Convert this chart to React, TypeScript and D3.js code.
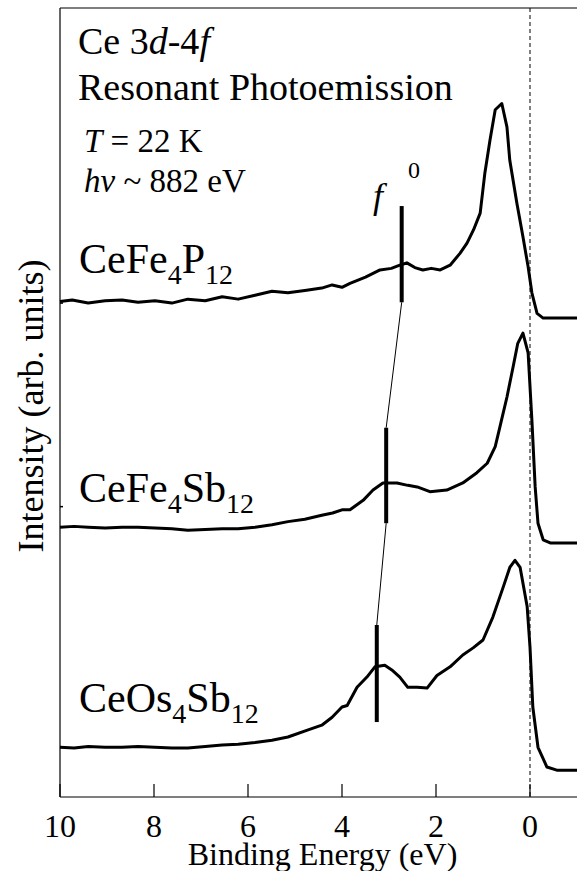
import * as d3 from "d3";

// spectra: [binding energy (eV), intensity above the flat level (arb. units)]
const cefe4p12: [number, number][] = [
  [10, 0.21], [9.74, 0.23], [9.4, 0.19], [9.04, 0.22], [8.68, 0.23], [8.34, 0.2],
  [7.98, 0.22], [7.62, 0.19], [7.28, 0.24], [6.91, 0.22], [6.55, 0.27], [6.21, 0.24],
  [5.85, 0.29], [5.49, 0.34], [5.15, 0.32], [4.79, 0.35], [4.43, 0.38], [4.21, 0.42],
  [4.0, 0.39], [3.83, 0.44], [3.5, 0.52], [3.19, 0.61], [2.95, 0.63], [2.77, 0.67],
  [2.62, 0.7], [2.45, 0.64], [2.28, 0.61], [2.1, 0.63], [1.91, 0.61], [1.7, 0.67],
  [1.49, 0.82], [1.34, 0.95], [1.2, 1.12], [1.06, 1.33], [0.96, 1.84], [0.85, 2.26],
  [0.74, 2.64], [0.6, 2.72], [0.49, 2.42], [0.43, 2.0], [0.28, 1.46], [0.15, 1.03],
  [0.04, 0.65], [-0.04, 0.32], [-0.15, 0.06], [-0.28, 0], [-0.6, 0], [-1, 0],
];

const cefe4sb12: [number, number][] = [
  [10, 0.2], [9.7, 0.21], [9.4, 0.2], [9.04, 0.19], [8.68, 0.2], [8.34, 0.2],
  [7.98, 0.19], [7.62, 0.18], [7.28, 0.16], [6.91, 0.17], [6.55, 0.18], [6.21, 0.18],
  [5.85, 0.2], [5.49, 0.23], [5.15, 0.27], [4.79, 0.3], [4.43, 0.35], [4.2, 0.38],
  [4.0, 0.42], [3.83, 0.42], [3.55, 0.54], [3.34, 0.67], [3.13, 0.76], [2.83, 0.76],
  [2.6, 0.73], [2.4, 0.71], [2.13, 0.65], [1.77, 0.67], [1.43, 0.76], [1.13, 0.89],
  [0.91, 1.01], [0.74, 1.22], [0.64, 1.47], [0.49, 1.85], [0.36, 2.23], [0.26, 2.53],
  [0.15, 2.66], [0.04, 2.41], [-0.04, 1.56], [-0.11, 0.71], [-0.17, 0.25], [-0.28, 0.04],
  [-0.43, 0], [-1, 0],
];

const ceos4sb12: [number, number][] = [
  [10, 0.29], [9.7, 0.28], [9.4, 0.3], [9.04, 0.29], [8.68, 0.29], [8.34, 0.3],
  [7.98, 0.29], [7.62, 0.28], [7.28, 0.28], [6.91, 0.3], [6.55, 0.32], [6.21, 0.33],
  [5.85, 0.35], [5.49, 0.38], [5.15, 0.42], [4.72, 0.51], [4.43, 0.57], [4.21, 0.67],
  [4.0, 0.8], [3.89, 0.82], [3.68, 1.05], [3.47, 1.18], [3.3, 1.31], [3.09, 1.33],
  [2.94, 1.27], [2.77, 1.18], [2.6, 1.05], [2.4, 1.05], [2.19, 1.04], [1.98, 1.2],
  [1.7, 1.31], [1.43, 1.46], [1.21, 1.55], [1.0, 1.65], [0.79, 1.94], [0.57, 2.32],
  [0.43, 2.57], [0.32, 2.66], [0.21, 2.57], [0.06, 2.07], [0.0, 1.56], [-0.06, 0.8],
  [-0.17, 0.29], [-0.36, 0.04], [-0.57, 0], [-1, 0],
];

// vertical offset of each spectrum, and the f0 marker: energy, low, high (relative)
const spectra = [
  { name: "CeFe", sub1: "4", mid: "P", sub2: "12", data: cefe4p12, offset: 6.07, f0: [2.73, 0.2, 1.42] },
  { name: "CeFe", sub1: "4", mid: "Sb", sub2: "12", data: cefe4sb12, offset: 3.22, f0: [3.06, 0.25, 1.46] },
  { name: "CeOs", sub1: "4", mid: "Sb", sub2: "12", data: ceos4sb12, offset: 0.34, f0: [3.26, 0.61, 1.84] },
];

const xTicks = [10, 8, 6, 4, 2, 0];
const yMarks = [6.26, 3.68];

const W = 577;
const H = 871;
const font = "'Liberation Serif', 'Times New Roman', Times, serif";

export default function App() {
  const x = d3.scaleLinear().domain([10, -1]).range([60, 577]);
  const y = d3.scaleLinear().domain([0, 10]).range([797, 8]);
  const left = x(10);
  const bottom = y(0);
  const top = 8;

  const line = (off: number) =>
    d3.line<[number, number]>()
      .x((d) => x(d[0]))
      .y((d) => y(d[1] + off));

  // label positions (baseline) for each spectrum
  const labelY = [273, 502, 712];

  return (
    <svg width={W} height={H} style={{ position: "absolute", left: 0, top: 0, background: "#fff", fontFamily: font }}>
      {/* frame */}
      <line x1={left} y1={top} x2={W} y2={top} stroke="#000" strokeWidth={1.2} />
      <line x1={left} y1={top} x2={left} y2={bottom} stroke="#000" strokeWidth={1.2} />
      <line x1={left} y1={bottom} x2={W} y2={bottom} stroke="#000" strokeWidth={1.2} />
      {xTicks.map((t) => (
        <g key={t}>
          <line x1={x(t)} x2={x(t)} y1={bottom} y2={bottom - 13} stroke="#000" strokeWidth={1.2} />
          <text x={x(t)} y={837} fontSize={32} textAnchor="middle">{t}</text>
        </g>
      ))}
      {yMarks.map((m) => (
        <line key={m} x1={left} x2={left + 3} y1={y(m)} y2={y(m)} stroke="#000" strokeWidth={1.5} />
      ))}
      <line x1={x(0)} x2={x(0)} y1={top} y2={bottom} stroke="#000" strokeWidth={1} strokeDasharray="4,3" />

      <text x={(left + x(-1)) / 2 + 4} y={865} fontSize={32} textAnchor="middle">Binding Energy (eV)</text>
      <text transform={`translate(43,406) rotate(-90)`} fontSize={36} textAnchor="middle">Intensity (arb. units)</text>

      {/* spectra */}
      {spectra.map((s) => (
        <path key={s.mid + s.name} d={line(s.offset)(s.data) || ""} fill="none" stroke="#000" strokeWidth={3} strokeLinejoin="round" />
      ))}

      {/* f0 markers */}
      {spectra.map((s, i) => (
        <line key={"b" + i} x1={x(s.f0[0])} x2={x(s.f0[0])} y1={y(s.offset + s.f0[1])} y2={y(s.offset + s.f0[2])} stroke="#000" strokeWidth={4} />
      ))}
      {spectra.slice(0, -1).map((s, i) => {
        const n = spectra[i + 1];
        return (
          <line key={"c" + i} x1={x(s.f0[0])} y1={y(s.offset + s.f0[1])} x2={x(n.f0[0])} y2={y(n.offset + n.f0[2])} stroke="#000" strokeWidth={1} />
        );
      })}
      <text x={373} y={208} fontSize={36} fontStyle="italic">f</text>
      <text x={408} y={178} fontSize={24}>0</text>

      {/* spectrum labels */}
      {spectra.map((s, i) => (
        <text key={"l" + i} x={79} y={labelY[i]} fontSize={42}>
          {s.name}
          <tspan fontSize={28} dy={11}>{s.sub1}</tspan>
          <tspan dy={-11}>{s.mid}</tspan>
          <tspan fontSize={28} dy={11}>{s.sub2}</tspan>
        </text>
      ))}

      {/* header text */}
      <text x={78} y={54} fontSize={38}>
        Ce 3<tspan fontStyle="italic">d</tspan>-4<tspan fontStyle="italic">f</tspan>
      </text>
      <text x={78} y={100} fontSize={38}>Resonant Photoemission</text>
      <text x={84} y={152} fontSize={33}>
        <tspan fontStyle="italic">T</tspan> = 22 K
      </text>
      <text x={84} y={192} fontSize={33}>
        <tspan fontStyle="italic">h</tspan><tspan fontStyle="italic">ν</tspan> ~ 882 eV
      </text>
    </svg>
  );
}
